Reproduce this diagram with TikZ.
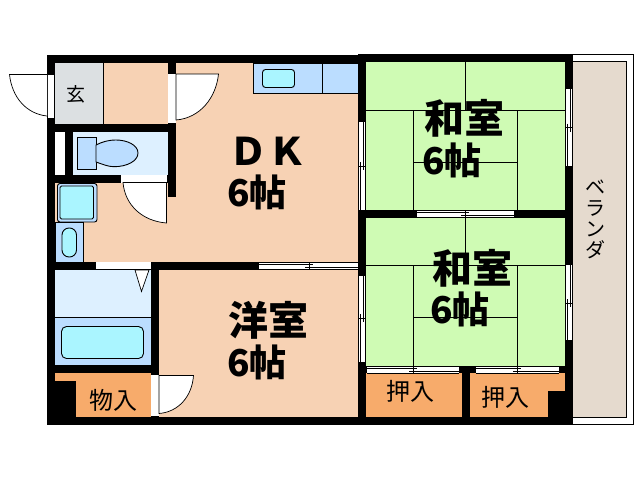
\documentclass[tikz,border=0pt]{standalone}
\usepackage{fontspec}
\usepackage{xcolor}
\newfontfamily\jpfont{Noto Sans CJK JP}
\newfontfamily\jpbold{Noto Sans CJK JP Black}
\usepackage{tikz}
\definecolor{peach}{HTML}{F7D2B4}
\definecolor{genkan}{HTML}{DCE0E2}
\definecolor{tatami}{HTML}{CFFBB4}
\definecolor{closet}{HTML}{F7AB6B}
\definecolor{palewet}{HTML}{DDF0FF}
\definecolor{wet}{HTML}{BBDDFF}
\definecolor{fixture}{HTML}{AAF5FF}
\definecolor{balcony}{HTML}{E5DACE}

\begin{document}
\begin{tikzpicture}[x=1pt,y=-1pt,
        wall/.style={fill=black},
        opening/.style={fill=white},
        fitting/.style={draw=black,line width=0.9pt},
        doorleaf/.style={draw=black,fill=white,line width=0.7pt},
        thin line/.style={draw=black,line width=0.8pt},
        roomname/.style={font=\jpbold\fontsize{40}{40}\selectfont,inner sep=0pt},
        roomsize/.style={font=\jpbold\fontsize{37}{37}\selectfont,inner sep=0pt},
        small name/.style={font=\jpfont\fontsize{24}{24}\selectfont,inner sep=0pt}]
    \useasboundingbox (0,0) rectangle (638,480);
    \fill[white] (0,0) rectangle (638,480);
    % balcony
    \draw[line width=1pt] (573,54.5) -- (633,54.5) -- (633,424) -- (573,424);
    \draw[fill=balcony,line width=1pt] (573,61.5) -- (626.5,61.5) -- (626.5,417.5) -- (573,417.5);
    % floors
    \fill[peach] (55,63) rectangle (358,417);
    \fill[genkan] (55,63) rectangle (103.5,124);
    \draw[thin line] (103.5,63) -- (103.5,124);
    \fill[tatami] (366,62) rectangle (565,218);
    \fill[tatami] (366,218) rectangle (565,366);
    \fill[closet] (55,373) rectangle (151,417);
    \fill[closet] (366,373) rectangle (462,417);
    \fill[closet] (470,373) rectangle (565,417);
    \fill[palewet] (73,132) rectangle (168,175);
    \fill[palewet] (55,270) rectangle (151,317);
    \fill[wet] (55,317) rectangle (151,365);
    \draw[thin line] (55,317) -- (151,317);
    % tatami lines
    \draw[thin line] (366,110.5) -- (565,110.5);
    \draw[thin line] (465,62) -- (465,110.5);
    \draw[thin line] (413.5,110.5) -- (413.5,210);
    \draw[thin line] (517.5,110.5) -- (517.5,210);
    \draw[thin line] (413.5,162.5) -- (517.5,162.5);
    \draw[thin line] (366,265.5) -- (565,265.5);
    \draw[thin line] (465,218) -- (465,265.5);
    \draw[thin line] (413.5,265.5) -- (413.5,366);
    \draw[thin line] (517.5,265.5) -- (517.5,366);
    \draw[thin line] (413.5,317) -- (517.5,317);
    % walls
    \foreach \xa/\ya/\xb/\yb in {47/55/366/63,358/54/573/62,47/417/573/425,47/55/55/425,565/54/573/425,
            168/63/175.5/197,47/124/175.5/132,65/132/73/175,47/175/168/183,47/262/366/270,
            151/262/159/425,47/365/159/373,358/54/366/425,358/210/573/218,358/366/573/373,
            462/366/470/425,55/381/76/417,548/391/565/417}
        \fill[wall] (\xa,\ya) rectangle (\xb,\yb);
    % openings
    \foreach \xa/\ya/\xb/\yb in {47/75/55/118,168/74/175.5/123,55/132/65/175,121/175/167/182.5,
            96/262/151/269,151/375/159/416}
        \fill[opening] (\xa,\ya) rectangle (\xb,\yb);
    \draw[line width=0.7pt] (47,75) -- (47,118);
    \draw[line width=0.7pt] (54.5,75) -- (54.5,118);
    % sliding doors
    \foreach \x/\ya/\ym/\yb in {358/121.5/166/210,358/276/318/362,565/89/127.5/166,565/264.5/303/340}{
        \fill[opening] (\x,\ya) rectangle (\x+8,\yb);
        \draw[line width=0.8pt] (\x+0.5,\ya) -- (\x+0.5,\yb);
        \draw[line width=0.8pt] (\x+7.5,\ya) -- (\x+7.5,\yb);
        \draw[line width=0.8pt] (\x+5.2,\ya) -- (\x+5.2,\ym+4);
        \draw[line width=0.8pt] (\x+2.7,\ym-4) -- (\x+2.7,\yb);
        \draw[line width=0.8pt] (\x,\ym) -- (\x+8,\ym);
    }
    \foreach \y/\xa/\xm/\xb in {262/259/309/358,210/417/465/514,366/367/413/459,366/476/517/559}{
        \fill[opening] (\xa,\y) rectangle (\xb,\y+7.5);
        \draw[line width=0.8pt] (\xa,\y+0.5) -- (\xb,\y+0.5);
        \draw[line width=0.8pt] (\xa,\y+7) -- (\xb,\y+7);
        \draw[line width=0.8pt] (\xa,\y+2.7) -- (\xm+4,\y+2.7);
        \draw[line width=0.8pt] (\xm-4,\y+5) -- (\xb,\y+5);
        \draw[line width=0.8pt] (\xm,\y) -- (\xm,\y+7.5);
    }
    % doors
    \draw[doorleaf] (47,74.5) -- (9.5,74.5) .. controls (12,98) and (27,114) .. (47,116);
    \draw[doorleaf] (176,74) -- (218.5,74) .. controls (216,98) and (200,118) .. (176,120) -- cycle;
    \draw[doorleaf] (166.5,182.5) -- (123,182.5) .. controls (125,205) and (142,221) .. (166.5,223) -- cycle;
    \draw[doorleaf] (159,375.5) -- (193.5,375.5) .. controls (192,397) and (178,412) .. (159,413.5) -- cycle;
    \draw[doorleaf] (135,270) -- (149,270) -- (141.5,291.5) -- cycle;
    % toilet
    \draw[fitting,fill=wet] (77.5,137) rectangle (96,169.5);
    \draw[fitting,fill=wet] (96,145) .. controls (102,142) and (108,140) .. (116,140)
        .. controls (127,140) and (138,145) .. (138,153)
        .. controls (138,161) and (127,166.7) .. (114,166.7)
        .. controls (108,166.7) and (102,164) .. (96,162) -- cycle;
    % washer and basin
    \draw[fitting,fill=wet,rounded corners=2.5pt] (57.5,183.5) rectangle (97,222);
    \draw[fitting,fill=fixture,rounded corners=1.5pt] (60,186) rectangle (93.5,219);
    \draw[fitting,fill=wet] (55,222) rectangle (83.5,262);
    \draw[fitting,fill=fixture,rounded corners=7pt] (62,228) rectangle (76.5,257);
    % bath
    \draw[fitting,fill=fixture,rounded corners=5pt] (61.5,326.5) rectangle (143.5,358.5);
    % kitchen
    \draw[thin line,fill=wet] (253,63) rectangle (358,93.5);
    \draw[thin line] (322.5,63) -- (322.5,93.5);
    \draw[fitting,fill=fixture,rounded corners=3pt] (262.5,69.5) rectangle (294.5,87.5);
    % room names
    \node[font=\jpfont\fontsize{19}{19}\selectfont,inner sep=0pt] (entry) at (76,94) {玄};
    \node[font=\jpbold\fontsize{38}{38}\selectfont,inner sep=0pt] (dk) at (268,151) {Ｄ\kern 1pt Ｋ};
    \node[roomsize] (dksize) at (257,192) {6帖};
    \node[roomname] (western) at (268,320) {洋室};
    \node[roomsize] (westernsize) at (257,362) {6帖};
    \node[roomname] (upper) at (464,118) {和室};
    \node[roomsize] (uppersize) at (452,160) {6帖};
    \node[roomname] (lower) at (472,268) {和室};
    \node[roomsize] (lowersize) at (460,309) {6帖};
    \node[small name] (storage) at (113,400) {物入};
    \node[small name] (closetleft) at (410,391) {押入};
    \node[small name] (closetright) at (505,397) {押入};
    \node[font=\jpfont\fontsize{20}{21}\selectfont,inner sep=0pt,align=center] (veranda) at (595,219) {ベ\\ラ\\ン\\ダ};
\end{tikzpicture}
\end{document}
